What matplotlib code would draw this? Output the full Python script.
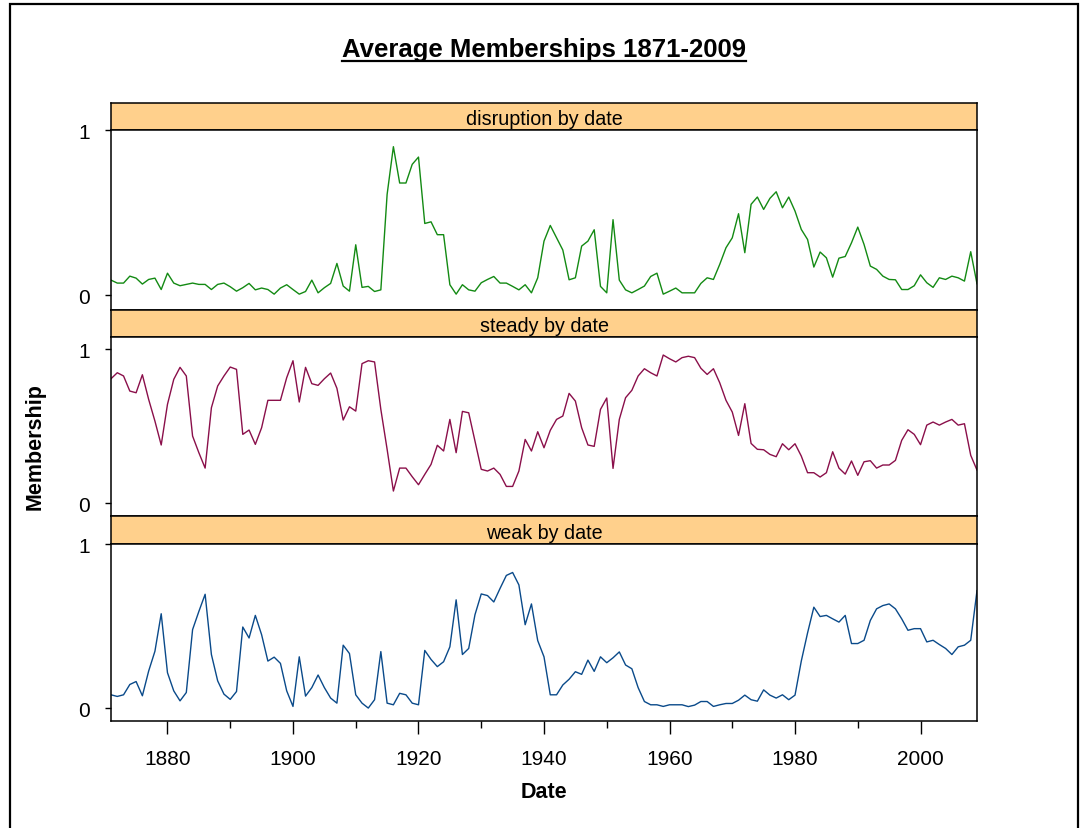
import matplotlib
matplotlib.use('Agg')
import matplotlib.pyplot as plt
from matplotlib.lines import Line2D
from matplotlib.patches import Rectangle
from matplotlib.ticker import MultipleLocator
import numpy as np

plt.rcParams['font.family'] = ['Liberation Sans', 'DejaVu Sans']

years = np.arange(1871, 2010)

disruption = [
    0.093, 0.075, 0.075, 0.117, 0.105, 0.069, 0.097, 0.105, 0.036, 0.135,
    0.075, 0.059, 0.067, 0.075, 0.067, 0.067, 0.036, 0.067, 0.075, 0.053,
    0.026, 0.047, 0.073, 0.034, 0.045, 0.036, 0.008, 0.045, 0.065, 0.036,
    0.008, 0.024, 0.093, 0.016, 0.047, 0.073, 0.194, 0.057, 0.026, 0.307,
    0.049, 0.055, 0.024, 0.034, 0.612, 0.901, 0.681, 0.681, 0.794, 0.838,
    0.436, 0.446, 0.368, 0.368, 0.065, 0.008, 0.065, 0.034, 0.026, 0.077,
    0.097, 0.115, 0.075, 0.075, 0.055, 0.034, 0.065, 0.016, 0.107, 0.329,
    0.424, 0.349, 0.275, 0.095, 0.107, 0.299, 0.329, 0.398, 0.055, 0.016,
    0.459, 0.093, 0.034, 0.016, 0.036, 0.057, 0.115, 0.135, 0.008, 0.026,
    0.045, 0.016, 0.016, 0.016, 0.073, 0.107, 0.097, 0.188, 0.289, 0.349,
    0.495, 0.259, 0.552, 0.596, 0.521, 0.588, 0.628, 0.531, 0.596, 0.511,
    0.400, 0.339, 0.172, 0.263, 0.228, 0.111, 0.226, 0.236, 0.319, 0.414,
    0.309, 0.178, 0.158, 0.117, 0.097, 0.095, 0.036, 0.036, 0.059, 0.125,
    0.077, 0.049, 0.107, 0.097, 0.117, 0.107, 0.087, 0.265, 0.071,
]

steady = [
    0.807, 0.846, 0.825, 0.727, 0.716, 0.833, 0.673, 0.532, 0.377, 0.641,
    0.803, 0.881, 0.825, 0.435, 0.327, 0.227, 0.619, 0.760, 0.825, 0.883,
    0.868, 0.446, 0.474, 0.381, 0.489, 0.667, 0.667, 0.667, 0.814, 0.924,
    0.656, 0.881, 0.775, 0.764, 0.807, 0.844, 0.745, 0.539, 0.625, 0.597,
    0.905, 0.924, 0.916, 0.608, 0.349, 0.078, 0.227, 0.227, 0.171, 0.119,
    0.186, 0.251, 0.375, 0.338, 0.543, 0.327, 0.595, 0.586, 0.403, 0.219,
    0.208, 0.227, 0.186, 0.108, 0.108, 0.208, 0.413, 0.338, 0.463, 0.359,
    0.472, 0.543, 0.565, 0.712, 0.662, 0.489, 0.377, 0.368, 0.608, 0.682,
    0.225, 0.543, 0.684, 0.732, 0.825, 0.872, 0.846, 0.825, 0.961, 0.937,
    0.916, 0.944, 0.953, 0.944, 0.875, 0.835, 0.872, 0.781, 0.667, 0.591,
    0.439, 0.645, 0.387, 0.349, 0.346, 0.316, 0.301, 0.385, 0.346, 0.385,
    0.305, 0.197, 0.197, 0.169, 0.197, 0.333, 0.227, 0.188, 0.273, 0.180,
    0.268, 0.275, 0.227, 0.247, 0.247, 0.277, 0.407, 0.476, 0.446, 0.379,
    0.506, 0.526, 0.506, 0.526, 0.543, 0.506, 0.515, 0.310, 0.214,
]

weak = [
    0.081, 0.071, 0.081, 0.144, 0.162, 0.075, 0.226, 0.347, 0.576, 0.216,
    0.105, 0.044, 0.095, 0.479, 0.590, 0.695, 0.327, 0.166, 0.085, 0.053,
    0.101, 0.495, 0.428, 0.566, 0.448, 0.287, 0.311, 0.273, 0.105, 0.010,
    0.313, 0.073, 0.125, 0.202, 0.125, 0.061, 0.030, 0.384, 0.333, 0.081,
    0.030, 0.000, 0.051, 0.345, 0.030, 0.020, 0.090, 0.081, 0.030, 0.020,
    0.352, 0.297, 0.253, 0.283, 0.374, 0.661, 0.327, 0.364, 0.570, 0.697,
    0.687, 0.648, 0.731, 0.810, 0.828, 0.752, 0.509, 0.636, 0.412, 0.313,
    0.081, 0.081, 0.141, 0.176, 0.222, 0.206, 0.293, 0.224, 0.313, 0.277,
    0.307, 0.343, 0.263, 0.240, 0.125, 0.040, 0.020, 0.020, 0.010, 0.020,
    0.020, 0.020, 0.009, 0.018, 0.040, 0.040, 0.010, 0.020, 0.028, 0.028,
    0.048, 0.079, 0.051, 0.042, 0.111, 0.079, 0.061, 0.081, 0.051, 0.079,
    0.287, 0.459, 0.616, 0.559, 0.566, 0.545, 0.525, 0.566, 0.394, 0.394,
    0.414, 0.535, 0.606, 0.626, 0.636, 0.606, 0.545, 0.475, 0.485, 0.485,
    0.404, 0.414, 0.388, 0.364, 0.327, 0.374, 0.384, 0.414, 0.717,
]

strip_labels = ["disruption by date", "steady by date", "weak by date"]
series = [disruption, steady, weak]
colors = ["#138a13", "#8a0f4a", "#0a4a8a"]
ytick_vals = [0, 1]
ytick_labels = ["0", "1"]

W, H = 1084, 829
fig = plt.figure(figsize=(W / 100, H / 100), dpi=100)
fig.patch.set_facecolor('white')


def fr(x0, y0, x1, y1):
    return [x0 / W, 1 - y1 / H, (x1 - x0) / W, (y1 - y0) / H]


# outer frame
fig.add_artist(Rectangle((10 / W, -0.05), (1078 - 10) / W, 1.05 - 5 / H,
                         transform=fig.transFigure, fill=False,
                         edgecolor='black', linewidth=1.6))

PL, PR = 111, 977
layout = [  # strip top, panel top, panel bottom, ylim
    (104, 131, 311, (-0.088, 1.002)),
    (311, 338, 517, (-0.084, 1.078)),
    (517, 545, 722, (-0.079, 1.002)),
]
strip_color = "#FFD08C"

for i, (lab, vals, col, (st, pt, pb, yl)) in enumerate(zip(strip_labels, series, colors, layout)):
    sax = fig.add_axes(fr(PL, st, PR, pt))
    sax.set_facecolor(strip_color)
    sax.set_xticks([])
    sax.set_yticks([])
    for sp in sax.spines.values():
        sp.set_linewidth(1.1)
    sax.text(0.5, 0.42, lab, ha='center', va='center', fontsize=14.2,
             transform=sax.transAxes)

    ax = fig.add_axes(fr(PL, pt, PR, pb))
    ax.plot(years, vals, color=col, linewidth=1.0)
    ax.set_xlim(1871, 2009)
    ax.set_ylim(*yl)
    ax.set_yticks(ytick_vals)
    ax.set_yticklabels(ytick_labels, fontsize=15)
    ax.tick_params(axis='y', direction='out', length=4, width=1, pad=11,
                   left=True, right=False)
    for sp in ax.spines.values():
        sp.set_linewidth(1.1)
    if i < 2:
        ax.tick_params(axis='x', bottom=False, labelbottom=False)
    else:
        ax.xaxis.set_major_locator(MultipleLocator(20))
        ax.xaxis.set_minor_locator(MultipleLocator(10))
        ax.tick_params(axis='x', which='major', direction='out', length=9,
                       width=1, pad=11, labelsize=15)
        ax.tick_params(axis='x', which='minor', direction='out', length=5,
                       width=1)

fig.text(35 / W, 1 - 447 / H, "Membership", rotation=90, ha='center',
         va='center', fontsize=15.5, fontweight='bold')
fig.text(544 / W, 1 - 793 / H, "Date", ha='center', va='center',
         fontsize=15.5, fontweight='bold')

title = fig.text(544 / W, 1 - 57 / H, "Average Memberships 1871-2009",
                 ha='center', va='baseline', fontsize=18.5, fontweight='bold')
renderer = fig.canvas.get_renderer()
bb = title.get_window_extent(renderer).transformed(fig.transFigure.inverted())
uy = 1 - 62 / H
fig.add_artist(Line2D([bb.x0, bb.x1], [uy, uy], transform=fig.transFigure,
                      color='black', linewidth=1.6))

fig.savefig("out.png", dpi=100)
